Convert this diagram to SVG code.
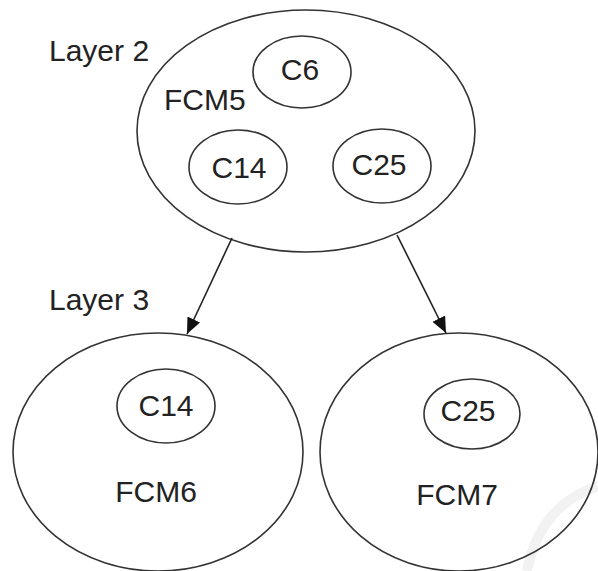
<svg xmlns="http://www.w3.org/2000/svg" width="598" height="571" viewBox="0 0 598 571">
<style>
.e{fill:none;stroke:#333;stroke-width:1.6}
.t{font-family:"Liberation Sans",Arial,sans-serif;font-size:30px;fill:#222}
.m{text-anchor:middle}
.c{stroke:#222;stroke-width:1.6;fill:none}
</style>
<defs>
<marker id="arr" markerWidth="16" markerHeight="14" refX="16" refY="7" orient="auto" markerUnits="userSpaceOnUse">
<path d="M0,0 L16,7 L0,14 Z" fill="#111"/>
</marker>
</defs>
<rect width="598" height="571" fill="#fff"/>
<path d="M598,486 Q540,505 527,571" fill="none" stroke="#f2f2f2" stroke-width="10"/>
<text class="t" x="49" y="61">Layer 2</text>
<text class="t" x="49" y="310">Layer 3</text>
<g id="FCM5">
<ellipse class="e" cx="306" cy="131" rx="169" ry="121"/>
<text class="t" x="164" y="110">FCM5</text>
</g>
<g id="FCM5_C6">
<ellipse class="e" cx="302" cy="72" rx="49" ry="36"/>
<text class="t m" x="300" y="80">C6</text>
</g>
<g id="FCM5_C14">
<ellipse class="e" cx="238" cy="167" rx="49" ry="37"/>
<text class="t m" x="239" y="178">C14</text>
</g>
<g id="FCM5_C25">
<ellipse class="e" cx="382" cy="166" rx="49" ry="37"/>
<text class="t m" x="379" y="175">C25</text>
</g>
<g id="FCM6">
<ellipse class="e" cx="158" cy="452" rx="145" ry="119"/>
<text class="t m" x="156" y="502">FCM6</text>
</g>
<g id="FCM6_C14">
<ellipse class="e" cx="166" cy="406" rx="49" ry="37"/>
<text class="t m" x="166" y="416">C14</text>
</g>
<g id="FCM7">
<ellipse class="e" cx="459" cy="452" rx="139" ry="119"/>
<text class="t m" x="457" y="505">FCM7</text>
</g>
<g id="FCM7_C25">
<ellipse class="e" cx="472" cy="414" rx="48" ry="35"/>
<text class="t m" x="468" y="421">C25</text>
</g>
<g id="connectors">
<line class="c" x1="232" y1="238" x2="187" y2="334" marker-end="url(#arr)"/>
<line class="c" x1="397" y1="235" x2="446" y2="333" marker-end="url(#arr)"/>
</g>
</svg>
